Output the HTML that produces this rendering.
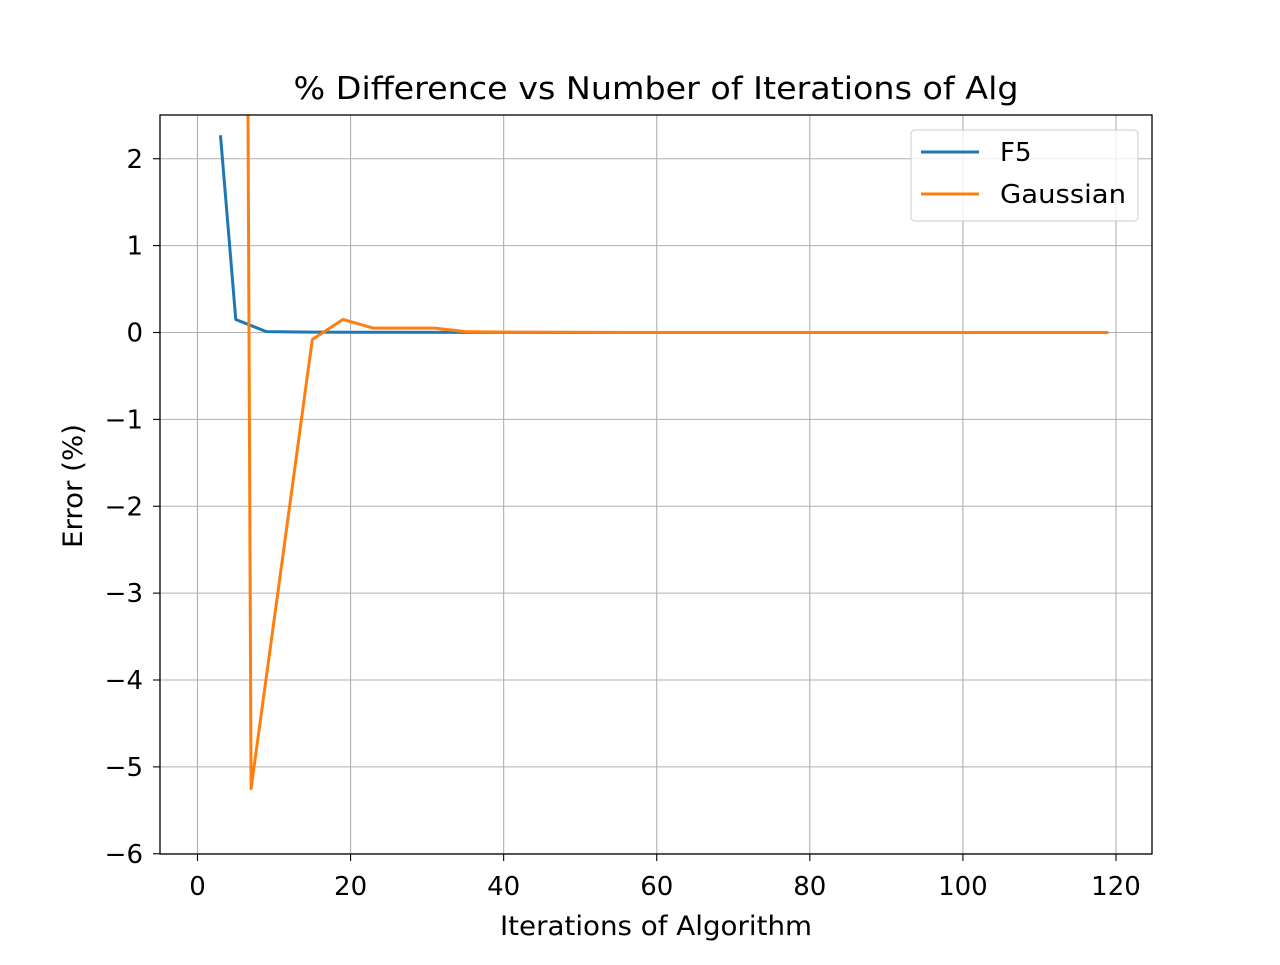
<!DOCTYPE html>
<html><head><meta charset="utf-8"><style>
body{margin:0;background:#fff;}
svg text{font-family:"DejaVu Sans","Liberation Sans",sans-serif;fill:#000;}
</style></head><body>
<svg id="chart" width="1280" height="960">
<rect width="1280" height="960" fill="#fff"/>
<defs><clipPath id="clip"><rect x="160" y="115" width="992" height="739"/></clipPath></defs>
<g id="grid"></g>
<g id="series" clip-path="url(#clip)"></g>
<rect x="160" y="115" width="992" height="739" fill="none" stroke="#000" stroke-width="1.3"/>
<g id="ticks"></g>
<text x="656" y="99" font-size="31" text-anchor="middle" textLength="725" lengthAdjust="spacingAndGlyphs">% Difference vs Number of Iterations of Alg</text>
<text x="656" y="935" font-size="27" text-anchor="middle" textLength="312" lengthAdjust="spacingAndGlyphs">Iterations of Algorithm</text>
<text x="82" y="486" font-size="27" text-anchor="middle" transform="rotate(-90 82 486)" textLength="124" lengthAdjust="spacingAndGlyphs">Error (%)</text>
<g>
<rect x="911" y="130" width="227" height="91" rx="4" fill="#fff" fill-opacity="0.8" stroke="#ccc"/>
<line x1="921" y1="152" x2="979" y2="152" stroke="#1f77b4" stroke-width="3"/>
<text x="1000" y="161" font-size="26">F5</text>
<line x1="921" y1="194" x2="979" y2="194" stroke="#ff7f0e" stroke-width="3"/>
<text x="1000" y="203" font-size="26" textLength="126" lengthAdjust="spacingAndGlyphs">Gaussian</text>
</g>
</svg>
<script>
const xTicks=[0,20,40,60,80,100,120];
const yTicks=[2,1,0,-1,-2,-3,-4,-5,-6];
const f5X=[3,5,7,9,15,20,40,60,80,100,111];
const f5Y=[2.27,0.15,0.08,0.01,0.005,0.003,0.001,0,0,0,0];
const gaussX=[5,7,11,15,19,23,27,31,35,40,60,80,100,119];
const gaussY=[33.5,-5.25,-2.67,-0.08,0.15,0.05,0.05,0.05,0.01,0.005,0,0,0,0];
const sx=v=>197.5+v*7.654;
const sy=v=>332.5-v*86.875;
const NS="http://www.w3.org/2000/svg";
const grid=document.getElementById('grid'),ticks=document.getElementById('ticks'),series=document.getElementById('series');
function mk(tag,attrs,parent){const e=document.createElementNS(NS,tag);for(const k in attrs)e.setAttribute(k,attrs[k]);parent.appendChild(e);return e;}
xTicks.forEach(t=>{
 const g=mk('line',{x1:sx(t),x2:sx(t),y1:115,y2:854,stroke:'#b0b0b0','stroke-width':1.1},grid);
 
 
 const l=mk('line',{x1:sx(t),x2:sx(t),y1:854,y2:861,stroke:'#000','stroke-width':1.1},ticks);
 
 
 const tx=mk('text',{x:sx(t),y:895,'font-size':26,'text-anchor':'middle'},ticks);tx.textContent=t;
 
 
});
yTicks.forEach(t=>{
 const g=mk('line',{x1:160,x2:1152,y1:sy(t),y2:sy(t),stroke:'#b0b0b0','stroke-width':1.1},grid);
 
 
 const l=mk('line',{x1:153,x2:160,y1:sy(t),y2:sy(t),stroke:'#000','stroke-width':1.1},ticks);
 
 
 const tx=mk('text',{x:143,y:sy(t)+9,'font-size':26,'text-anchor':'end'},ticks);tx.textContent=t<0?'\u2212'+(-t):t;
 
 
});
function line(xs,ys,color,name){
 const p=mk('polyline',{points:xs.map((x,i)=>sx(x)+','+sy(ys[i])).join(' '),fill:'none',stroke:color,'stroke-width':3,'stroke-linejoin':'round'},series);
 
 
}
line(f5X,f5Y,'#1f77b4','f5-line');
line(gaussX,gaussY,'#ff7f0e','gaussian-line');
</script>
</body></html>
